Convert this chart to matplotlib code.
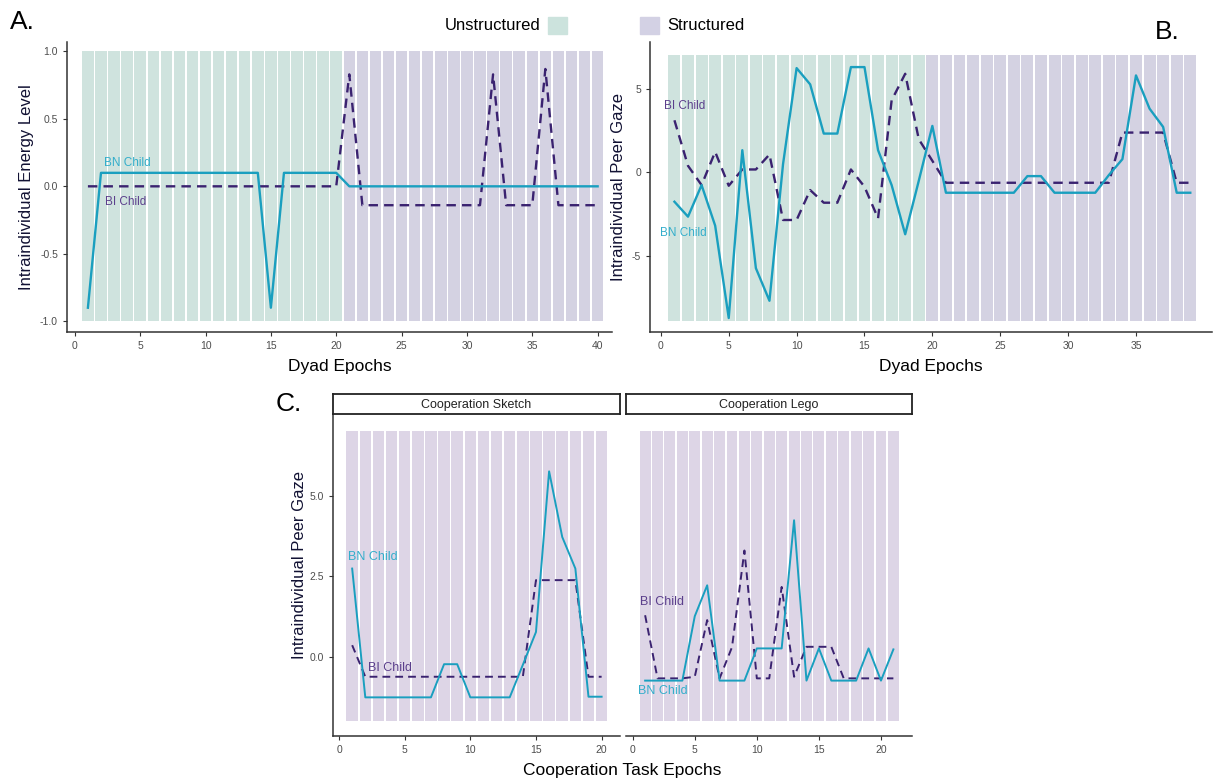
import matplotlib.pyplot as plt
from matplotlib.patches import Rectangle

plt.rcParams['font.family'] = ['Liberation Sans', 'DejaVu Sans']
plt.rcParams['axes.unicode_minus'] = False

# ---- data -------------------------------------------------------------
epochs_a = list(range(1, 41))
bn_energy = [-0.9] + [0.1] * 13 + [-0.9] + [0.1] * 5 + [0.0] * 20
bi_energy = [0.0] * 20 + [0.83] + [-0.14] * 10 + [0.83] + [-0.14] * 3 + [0.87] + [-0.14] * 4
n_unstruct_a = 20

epochs_b = list(range(1, 40))
bn_gaze = [-1.76, -2.66, -0.76, -3.2, -8.76, 1.34, -5.76, -7.72, 0.5, 6.28,
           5.3, 2.34, 2.34, 6.34, 6.34, 1.34, -0.76, -3.72, -0.5, 2.8,
           -1.22, -1.22, -1.22, -1.22, -1.22, -1.22, -0.22, -0.22, -1.22, -1.22,
           -1.22, -1.22, -0.16, 0.8, 5.84, 3.84, 2.74, -1.22, -1.22]
bi_gaze = [3.14, 0.4, -0.76, 1.24, -0.8, 0.18, 0.18, 1.08, -2.86, -2.86,
           -1.06, -1.82, -1.82, 0.18, -0.86, -2.76, 4.34, 5.94, 2.0, 0.7] \
          + [-0.62] * 13 + [2.4] * 4 + [-0.62] * 2
n_unstruct_b = 19

epochs_sketch = list(range(1, 21))
bn_sketch = [2.74, -1.26, -1.26, -1.26, -1.26, -1.26, -1.26, -0.23, -0.23, -1.26,
             -1.26, -1.26, -1.26, -0.25, 0.77, 5.76, 3.72, 2.74, -1.24, -1.24]
bi_sketch = [0.36] + [-0.62] * 13 + [2.38] * 4 + [-0.62] * 2

epochs_lego = list(range(1, 22))
bn_lego = [-0.74, -0.74, -0.74, -0.74, 1.26, 2.22, -0.74, -0.74, -0.74, 0.26,
           0.26, 0.26, 4.24, -0.74, 0.26, -0.74, -0.74, -0.74, 0.26, -0.74, 0.23]
bi_lego = [1.29, -0.67, -0.67, -0.67, -0.62, 1.14, -0.67, 0.3, 3.3, -0.67,
           -0.67, 2.17, -0.62, 0.31, 0.31, 0.31, -0.67, -0.67, -0.67, -0.67, -0.67]

# ---- style ------------------------------------------------------------
teal = '#1a9fbf'
teal_txt = '#33aecb'
navy = '#3a2270'
navy_txt = '#5b3f8c'
green_bg = '#cfe3de'
purple_bg = '#d4d2e2'
lilac_bg = '#ddd5e6'
tick_col = '#4d4d4d'

W, H = 1214, 780
fig = plt.figure(figsize=(W / 100, H / 100), dpi=100)


def px_axes(l, t, r, b):
    return fig.add_axes([l / W, 1 - b / H, (r - l) / W, (b - t) / H])


def style(ax):
    for s in ['top', 'right']:
        ax.spines[s].set_visible(False)
    for s in ['left', 'bottom']:
        ax.spines[s].set_color('#333333')
        ax.spines[s].set_linewidth(1.1)
    ax.tick_params(colors='#333333', labelcolor=tick_col, labelsize=7.5,
                   length=3, width=0.8)


def bands(ax, x, colors, lo, hi):
    ax.bar(x, hi - lo, bottom=lo, width=0.88, color=colors, linewidth=0, zorder=1)


# ---- panel A ----------------------------------------------------------
ax = px_axes(67, 42, 612, 332)
style(ax)
cols = [green_bg] * n_unstruct_a + [purple_bg] * (len(epochs_a) - n_unstruct_a)
bands(ax, epochs_a, cols, -1.0, 1.0)
ax.plot(epochs_a, bi_energy, color=navy, lw=1.7, ls=(0, (4, 2.6)), zorder=3)
ax.plot(epochs_a, bn_energy, color=teal, lw=1.7, zorder=4)
ax.set_xlim(-0.6, 41.1)
ax.set_ylim(-1.08, 1.07)
ax.set_xticks(range(0, 41, 5))
ax.set_yticks([-1.0, -0.5, 0.0, 0.5, 1.0])
ax.set_yticklabels(['-1.0', '-0.5', '0.0', '0.5', '1.0'])
ax.set_xlabel('Dyad Epochs', fontsize=12.5, labelpad=6)
ax.set_ylabel('Intraindividual Energy Level', fontsize=12, color='#111133', labelpad=4)
ax.text(2.2, 0.15, 'BN Child', color=teal_txt, fontsize=8.5)
ax.text(2.3, -0.14, 'BI Child', color=navy_txt, fontsize=8.5)

# ---- panel B ----------------------------------------------------------
ax = px_axes(650, 42, 1212, 332)
style(ax)
cols = [green_bg] * n_unstruct_b + [purple_bg] * (len(epochs_b) - n_unstruct_b)
bands(ax, epochs_b, cols, -8.92, 7.04)
ax.plot(epochs_b, bi_gaze, color=navy, lw=1.7, ls=(0, (4, 2.6)), zorder=3)
ax.plot(epochs_b, bn_gaze, color=teal, lw=1.7, zorder=4)
ax.set_xlim(-0.8, 40.6)
ax.set_ylim(-9.6, 7.85)
ax.set_xticks(range(0, 36, 5))
ax.set_yticks([-5, 0, 5])
ax.set_xlabel('Dyad Epochs', fontsize=12.5, labelpad=6)
ax.set_ylabel('Intraindividual Peer Gaze', fontsize=12, color='#111133', labelpad=4)
ax.text(0.2, 3.8, 'BI Child', color=navy_txt, fontsize=8.5)
ax.text(-0.1, -3.8, 'BN Child', color=teal_txt, fontsize=8.5)

# ---- panel C ----------------------------------------------------------
c_panels = [
    ('Cooperation Sketch', epochs_sketch, bn_sketch, bi_sketch, 333, 620, (-0.46, 21.4)),
    ('Cooperation Lego', epochs_lego, bn_lego, bi_lego, 626, 912, (-0.54, 22.5)),
]
for i, (title, ep, bn, bi, l, r, xl) in enumerate(c_panels):
    ax = px_axes(l, 414, r, 736)
    style(ax)
    bands(ax, ep, lilac_bg, -2.0, 7.0)
    ax.plot(ep, bi, color=navy, lw=1.4, ls=(0, (4, 2.6)), zorder=3)
    ax.plot(ep, bn, color=teal, lw=1.4, zorder=4)
    ax.set_xlim(*xl)
    ax.set_ylim(-2.46, 7.54)
    ax.set_xticks(range(0, 21, 5))
    if i == 0:
        ax.set_yticks([0.0, 2.5, 5.0])
        ax.set_yticklabels(['0.0', '2.5', '5.0'])
        ax.text(0.7, 3.0, 'BN Child', color=teal_txt, fontsize=9)
        ax.text(2.2, -0.45, 'BI Child', color=navy_txt, fontsize=9)
    else:
        ax.spines['left'].set_visible(False)
        ax.set_yticks([])
        ax.text(0.6, 1.6, 'BI Child', color=navy_txt, fontsize=9)
        ax.text(0.4, -1.15, 'BN Child', color=teal_txt, fontsize=9)
    sx = px_axes(l, 394, r, 414)
    sx.set_xticks([])
    sx.set_yticks([])
    for s in sx.spines.values():
        s.set_linewidth(1.3)
        s.set_color('#222222')
    sx.text(0.5, 0.47, title, ha='center', va='center', fontsize=9, color='#222222',
            transform=sx.transAxes)

fig.text(300 / W, 1 - 565 / H, 'Intraindividual Peer Gaze', rotation=90,
         ha='center', va='center', fontsize=12, color='#111133')
fig.text(622 / W, 1 - 770 / H, 'Cooperation Task Epochs', ha='center', va='center',
         fontsize=12.5)

# ---- panel letters and legend -----------------------------------------
fig.text(10 / W, 1 - 22 / H, 'A.', fontsize=19, va='center')
fig.text(1155 / W, 1 - 32 / H, 'B.', fontsize=19, va='center')
fig.text(276 / W, 1 - 404 / H, 'C.', fontsize=19, va='center')

fig.text(540 / W, 1 - 26 / H, 'Unstructured', fontsize=12, ha='right', va='center')
fig.add_artist(Rectangle((548 / W, 1 - 34 / H), 19 / W, 17 / H, color='#cce3dd',
                         transform=fig.transFigure))
fig.add_artist(Rectangle((640 / W, 1 - 34 / H), 19 / W, 17 / H, color='#d3d1e4',
                         transform=fig.transFigure))
fig.text(667 / W, 1 - 26 / H, 'Structured', fontsize=12, ha='left', va='center')

fig.savefig('out.png', dpi=100)
